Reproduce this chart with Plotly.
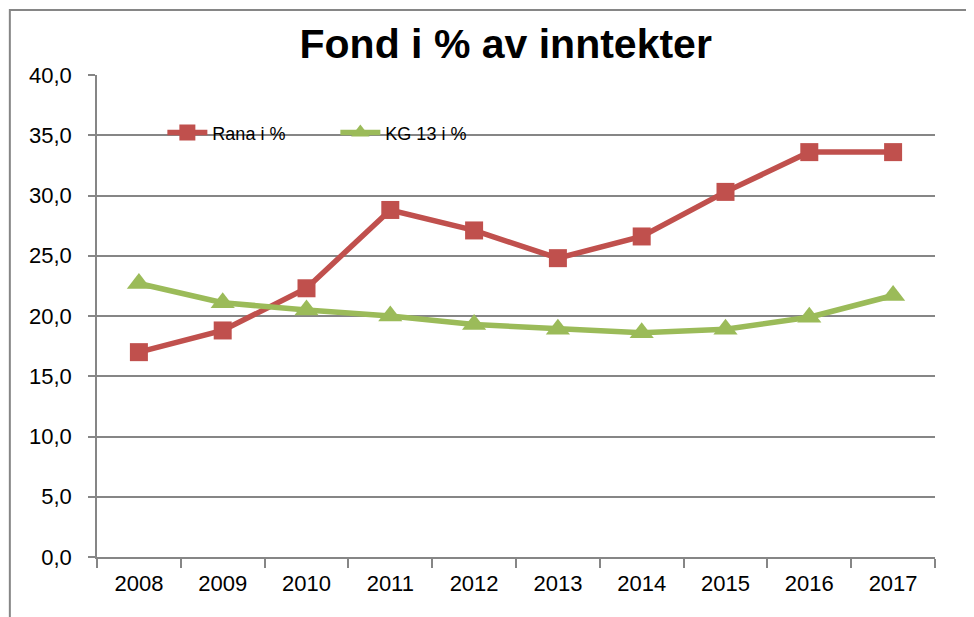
import plotly.graph_objects as go

years = ["2008", "2009", "2010", "2011", "2012", "2013", "2014", "2015", "2016", "2017"]
rana = [17.0, 18.8, 22.3, 28.8, 27.1, 24.8, 26.6, 30.3, 33.6, 33.6]
kg13 = [22.7, 21.1, 20.5, 20.0, 19.3, 18.9, 18.6, 18.9, 19.9, 21.7]
y_ticks = [0, 5, 10, 15, 20, 25, 30, 35, 40]

FONT = "Liberation Sans, Arial, sans-serif"
GRID = "#868686"

fig = go.Figure()
fig.add_trace(go.Scatter(
    x=years, y=rana, name="Rana i %", mode="lines+markers",
    line=dict(color="#C0504D", width=5.5),
    marker=dict(symbol="square", size=18, color="#C0504D"),
))
fig.add_trace(go.Scatter(
    x=years, y=kg13, name="KG 13 i %", mode="lines+markers",
    line=dict(color="#9BBB59", width=5.5),
    marker=dict(symbol="triangle-up", size=21, color="#9BBB59"),
))

# page body adds an 8px offset; margins compensate so the plot area sits at x 97..935, y 75..557
fig.update_layout(
    width=974, height=617,
    margin=dict(l=89, r=47, t=67, b=68, autoexpand=False),
    paper_bgcolor="white", plot_bgcolor="white",
    separators=", ",
    font=dict(family=FONT, size=22, color="black"),
    title=dict(text="<b>Fond i % av inntekter</b>", x=0.511, xanchor="center",
               y=0.942, yanchor="middle",
               font=dict(family=FONT, size=41, color="black")),
    showlegend=True,
    legend=dict(orientation="h", x=0.078, y=0.88, xanchor="left", yanchor="middle",
                bgcolor="rgba(0,0,0,0)", font=dict(size=18), itemwidth=40,
                entrywidth=118, entrywidthmode="pixels"),
    xaxis=dict(type="category", range=[-0.5, 9.5], tickson="boundaries",
               ticks="outside", ticklen=9, tickcolor=GRID, tickwidth=1.5,
               showline=True, linecolor=GRID, linewidth=1.5, automargin=False,
               showgrid=False, tickfont=dict(size=22), ticklabelstandoff=6),
    yaxis=dict(range=[0, 40], tickvals=y_ticks, tickformat=".1f",
               ticks="outside", ticklen=7, tickcolor=GRID, tickwidth=1.5,
               showline=True, linecolor=GRID, linewidth=1.5, automargin=False,
               showgrid=True, gridcolor=GRID, gridwidth=1.5,
               zeroline=False, tickfont=dict(size=22), ticklabelstandoff=12),
    shapes=[dict(type="rect", xref="paper", yref="paper",
                 x0=-0.104, x1=1.06, y0=-0.15, y1=1.135,
                 line=dict(color=GRID, width=2), fillcolor="rgba(0,0,0,0)",
                 layer="below")],
)

fig.write_html("out.html")
